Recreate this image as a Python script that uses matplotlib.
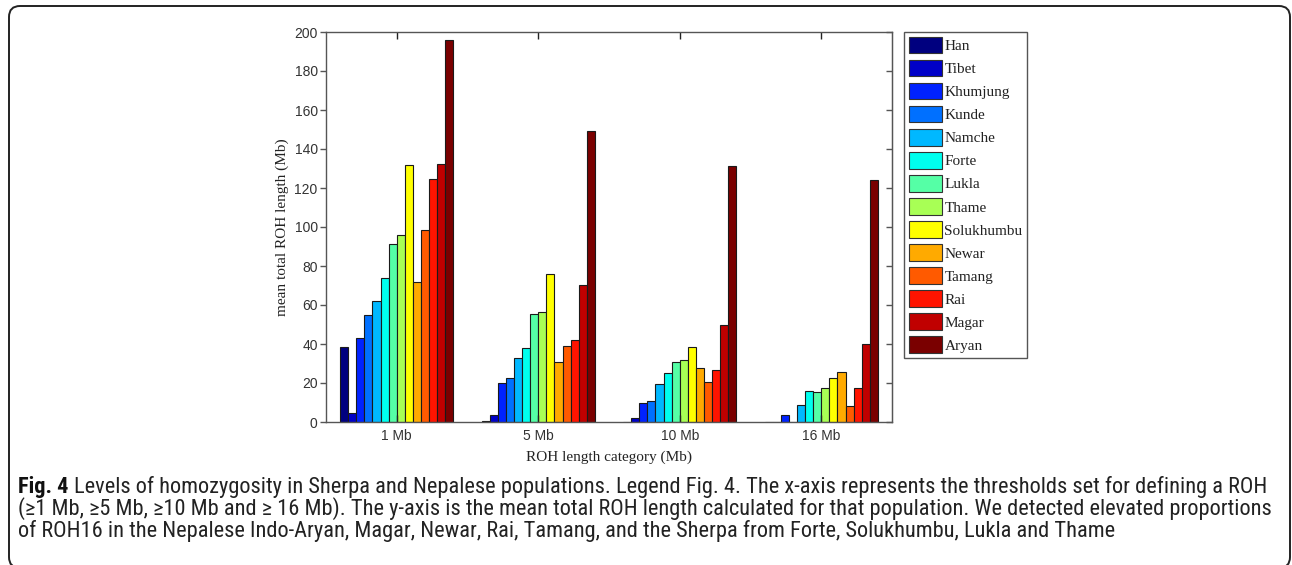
import matplotlib
matplotlib.use('Agg')
from matplotlib import pyplot as plt, font_manager
from matplotlib.patches import FancyBboxPatch
import numpy as np

W, H = 1292, 565

categories = ['1 Mb', '5 Mb', '10 Mb', '16 Mb']
populations = ['Han', 'Tibet', 'Khumjung', 'Kunde', 'Namche', 'Forte', 'Lukla',
               'Thame', 'Solukhumbu', 'Newar', 'Tamang', 'Rai', 'Magar', 'Aryan']

# mean total ROH length (Mb) per population, for 1 / 5 / 10 / 16 Mb thresholds
han = [38.5, 0.5, 0.0, 0.0]
tibet = [4.5, 3.8, 2.2, 0.0]
khumjung = [43.0, 20.2, 9.9, 3.6]
kunde = [55.0, 22.4, 11.0, 0.0]
namche = [62.0, 32.6, 19.5, 8.8]
forte = [74.0, 38.0, 25.0, 15.9]
lukla = [91.5, 55.5, 31.0, 15.2]
thame = [96.0, 56.4, 31.6, 17.6]
solukhumbu = [132.0, 75.7, 38.6, 22.4]
newar = [72.0, 30.9, 27.6, 25.8]
tamang = [98.3, 39.1, 20.6, 8.4]
rai = [124.4, 41.9, 26.6, 17.6]
magar = [132.5, 70.4, 49.9, 39.8]
aryan = [195.7, 149.4, 131.5, 123.9]
values = [han, tibet, khumjung, kunde, namche, forte, lukla, thame,
          solukhumbu, newar, tamang, rai, magar, aryan]

colors = ['#00007f', '#0000c8', '#0022ff', '#0070ff', '#00b8ff', '#00ffee', '#55ffa6',
          '#a8ff55', '#ffff00', '#ffaa00', '#ff5a00', '#ff1400', '#c00000', '#7a0000']

caption_bold = 'Fig. 4'
caption_lines = [
    'Levels of homozygosity in Sherpa and Nepalese populations. Legend Fig. 4. The x-axis represents the thresholds set for defining a ROH',
    '(\u22651 Mb, \u22655 Mb, \u226510 Mb and \u2265 16 Mb). The y-axis is the mean total ROH length calculated for that population. We detected elevated proportions',
    'of ROH16 in the Nepalese Indo-Aryan, Magar, Newar, Rai, Tamang, and the Sherpa from Forte, Solukhumbu, Lukla and Thame',
]


def pick(families):
    for f in families:
        try:
            font_manager.findfont(f, fallback_to_default=False)
            return f
        except ValueError:
            continue
    return 'DejaVu Sans'


sans = pick(['Liberation Sans', 'Arial', 'DejaVu Sans'])
serif = pick(['Liberation Serif', 'Times New Roman', 'DejaVu Serif'])
narrow = pick(['Liberation Sans Narrow', 'Roboto Condensed', 'Open Sans', 'Liberation Sans'])


def fx(px):
    return px / W


def fy(py):
    return 1 - py / H


fig = plt.figure(figsize=(W / 100, H / 100), dpi=100)

# rounded frame around the figure + caption
frame = FancyBboxPatch((9, -3), 1281, 562, boxstyle='round,pad=0,rounding_size=11',
                       transform=None, fill=False, edgecolor='#222222', linewidth=1.4)
fig.patches.append(frame)

ax = fig.add_axes([fx(326), fy(422), (892 - 326) / W, (422 - 32) / H])

n = len(populations)
x = np.arange(1, len(categories) + 1)
slot = 0.8 / n
for i, (pop, vals) in enumerate(zip(populations, values)):
    ax.bar(x - 0.4 + slot * (i + 0.5), vals, width=slot, color=colors[i],
           edgecolor='#1a1a1a', linewidth=0.8, label=pop)

ax.set_xlim(0.5, 4.5)
ax.set_ylim(0, 200)
ax.set_xticks(x, categories)
ax.set_yticks(np.arange(0, 201, 20))
for s in ax.spines.values():
    s.set_color('#555555')
    s.set_linewidth(1.0)

ax.tick_params(axis='x', direction='in', top=True, bottom=True, length=5, width=1,
               color='#222222', pad=5, labelsize=10, labelcolor='#333333')
ax.tick_params(axis='y', direction='out', left=True, right=False, length=4, width=1,
               color='#555555', pad=2, labelsize=10, labelcolor='#333333')
for lab in ax.get_xticklabels() + ax.get_yticklabels():
    lab.set_family(sans)

sec = ax.secondary_yaxis('right')
sec.set_yticks(np.arange(0, 201, 20))
sec.tick_params(direction='in', length=4, width=1, color='#555555', labelright=False)
sec.spines['right'].set_color('#555555')

ax.set_ylabel('mean total ROH length (Mb)', family=serif, fontsize=11, color='#222222')
ax.yaxis.set_label_coords(-0.066, 0.5)
ax.set_xlabel('ROH length category (Mb)', family=serif, fontsize=11, color='#222222')
ax.xaxis.set_label_coords(0.5, -0.072)

leg = ax.legend(loc='upper left', bbox_to_anchor=(fx(904), fy(32)),
                bbox_transform=fig.transFigure, prop={'family': serif, 'size': 11},
                fancybox=False, edgecolor='#555555', framealpha=1, borderaxespad=0,
                handlelength=2.2, handleheight=1.3, handletextpad=0.15,
                labelspacing=0.42, borderpad=0.3)
leg.get_frame().set_linewidth(1.0)
for t in leg.get_texts():
    t.set_color('#222222')
for p in leg.get_patches():
    p.set_edgecolor('#333333')

# caption: fit font size so the second line spans the same width as the reference
fam = [narrow, 'DejaVu Sans']
renderer = fig.canvas.get_renderer()
probe = fig.text(fx(18), fy(509), caption_lines[1], family=fam, fontsize=12)
w = probe.get_window_extent(renderer).width
probe.remove()
fs = 12 * (1270 - 18) / w

b = fig.text(fx(18), fy(487), caption_bold, family=fam, fontsize=fs, weight='bold',
             color='#111111', va='center')
bw = b.get_window_extent(renderer).width
fig.text(fx(18) + (bw + fs * 0.35) / W, fy(487), caption_lines[0], family=fam,
         fontsize=fs, color='#222222', va='center')
fig.text(fx(18), fy(509), caption_lines[1], family=fam, fontsize=fs, color='#222222', va='center')
fig.text(fx(18), fy(531), caption_lines[2], family=fam, fontsize=fs, color='#222222', va='center')

fig.savefig('out.png', dpi=100)
